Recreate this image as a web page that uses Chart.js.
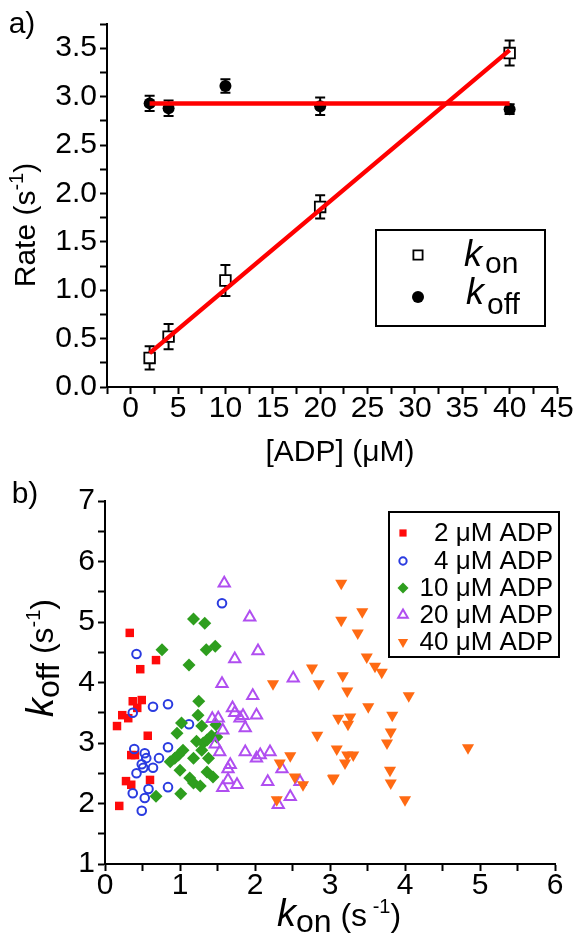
<!DOCTYPE html>
<html>
<head>
<meta charset="utf-8">
<script src="https://cdn.jsdelivr.net/npm/chart.js@4.4.0/dist/chart.umd.min.js"></script>
<style>
  html, body { margin: 0; padding: 0; background: #fff; }
  .wrap { position: absolute; left: 0; width: 580px; }
  #wrapA { top: 0; height: 470px; }
  #wrapB { top: 470px; height: 472px; }
</style>
</head>
<body>
<div class="wrap" id="wrapA"><canvas id="chartA"></canvas></div>
<div class="wrap" id="wrapB"><canvas id="chartB"></canvas></div>
<script>
// ---- panel a data ----
const adp = [2, 4, 10, 20, 40];
const kon = [0.30, 0.52, 1.10, 1.86, 3.45];
const konErr = [0.12, 0.13, 0.16, 0.12, 0.13];
const koff = [2.93, 2.88, 3.11, 2.90, 2.87];
const koffErr = [0.08, 0.08, 0.07, 0.09, 0.05];
const konFit = [[2, 0.35], [40, 3.48]];
const koffFit = [[2, 2.93], [40, 2.93]];
const aXLabels = [0, 5, 10, 15, 20, 25, 30, 35, 40, 45];
const aYLabels = [0.0, 0.5, 1.0, 1.5, 2.0, 2.5, 3.0, 3.5];

// ---- panel b data: [kon, koff] per ADP concentration ----
const adpLevels = ['2', '4', '10', '20', '40'];
const pts2 = [[0.33,4.82],[0.47,4.22],[0.68,4.37],[0.37,3.69],[0.49,3.71],[0.43,3.58],[0.23,3.46],[0.31,3.41],
  [0.16,3.28],[0.57,3.12],[0.35,2.80],[0.40,2.80],[0.28,2.37],[0.35,2.31],[0.60,2.39],[0.19,1.96]];
const pts4 = [[0.42,4.47],[1.56,5.31],[0.37,3.50],[0.64,3.60],[0.84,3.64],[1.12,3.31],[0.39,2.90],[0.53,2.83],
  [0.55,2.75],[0.72,2.75],[0.84,2.93],[0.49,2.65],[0.51,2.59],[0.64,2.59],[0.42,2.50],[0.58,2.24],[0.84,2.27],
  [0.37,2.17],[0.53,2.09],[0.49,1.88]];
const pts10 = [[0.76,4.54],[1.18,5.05],[1.33,4.98],[1.35,4.54],[1.47,4.60],[1.12,4.29],[1.25,3.69],[1.24,3.46],
  [1.02,3.33],[1.29,3.28],[1.48,3.30],[0.96,3.16],[1.42,3.12],[1.49,3.10],[1.22,3.03],[1.31,3.00],[1.36,3.05],
  [1.29,2.88],[1.04,2.88],[0.98,2.80],[0.93,2.75],[0.87,2.69],[1.18,2.75],[1.38,2.75],[1.00,2.55],[1.36,2.52],
  [1.44,2.44],[1.13,2.42],[1.18,2.34],[1.27,2.29],[1.01,2.16],[0.68,2.12]];
const pts20 = [[1.59,5.64],[1.93,5.08],[1.73,4.39],[2.04,4.52],[2.51,4.07],[1.56,3.98],[1.97,3.78],[1.70,3.58],
  [1.73,3.50],[1.84,3.45],[1.80,3.41],[2.02,3.46],[1.87,3.25],[1.43,3.40],[1.51,3.41],[1.57,3.21],[1.47,2.98],
  [1.53,2.85],[1.87,2.85],[2.02,2.75],[2.07,2.80],[2.20,2.85],[1.67,2.64],[1.64,2.57],[1.64,2.39],[1.76,2.31],
  [1.57,2.26],[2.17,2.36],[2.36,2.57],[2.47,2.11],[2.31,1.98],[2.60,2.36]];
const pts40 = [[2.76,4.24],[2.24,3.98],[2.85,3.98],[2.83,3.13],[2.47,2.79],[2.33,2.67],[2.53,2.44],[2.64,2.31],
  [2.29,2.06],[3.05,2.42],[3.15,5.64],[3.15,5.03],[3.43,5.17],[3.37,4.82],[3.49,4.42],[3.60,4.27],[3.69,4.17],
  [3.17,4.11],[3.23,3.86],[4.05,3.78],[3.51,3.60],[3.11,3.41],[3.27,3.43],[3.24,3.31],[3.83,3.46],[3.81,3.18],
  [3.76,3.00],[4.84,2.92],[3.09,2.90],[3.23,2.80],[3.31,2.80],[3.20,2.67],[3.04,2.41],[3.80,2.55],[3.81,2.34],
  [4.00,2.06]];
const bXLabels = [0, 1, 2, 3, 4, 5, 6];
const bYLabels = [1, 2, 3, 4, 5, 6, 7];

const FONT = '"Liberation Sans", Arial, Helvetica, sans-serif';

function makeScale(min, max, step, majors, fmt, size, isX) {
  return {
    type: 'linear', min: min, max: max,
    border: { color: '#000', width: 2 },
    grid: { drawOnChartArea: false, drawTicks: true, tickLength: 7, tickWidth: 2, tickColor: '#000' },
    ticks: {
      autoSkip: false, maxRotation: 0, color: '#000', padding: isX ? 0 : 3,
      font: { family: FONT, size: 30, lineHeight: 1 },
      callback: v => {
        const m = majors.find(t => Math.abs(t - v) < 1e-6);
        return m === undefined ? '' : fmt(m);
      }
    },
    afterBuildTicks: s => {
      const t = [];
      for (let i = 0; min + i * step <= max + 1e-9; i++) t.push({ value: +(min + i * step).toFixed(4) });
      s.ticks = t;
    },
    afterFit: s => { if (isX) s.height = size; else s.width = size; }
  };
}

function richText(ctx, parts, x, y, rot) {
  ctx.save();
  ctx.translate(x, y);
  if (rot) ctx.rotate(rot);
  let w = 0;
  parts.forEach(p => { ctx.font = p.f; w += ctx.measureText(p.t).width; });
  let cx = -w / 2;
  ctx.fillStyle = '#000';
  ctx.textAlign = 'left';
  ctx.textBaseline = 'alphabetic';
  parts.forEach(p => {
    ctx.font = p.f;
    ctx.fillText(p.t, cx, p.dy || 0);
    cx += ctx.measureText(p.t).width;
  });
  ctx.restore();
}

function marker(ctx, ds, x, y) {
  const r = ds.pointRadius, st = ds.pointStyle;
  ctx.save();
  ctx.fillStyle = ds.backgroundColor;
  ctx.strokeStyle = ds.borderColor;
  ctx.lineWidth = ds.borderWidth;
  ctx.beginPath();
  if (st === 'rect') {
    const s = r * Math.SQRT1_2;
    ctx.rect(x - s, y - s, 2 * s, 2 * s);
  } else if (st === 'rectRot') {
    ctx.moveTo(x - r, y); ctx.lineTo(x, y - r); ctx.lineTo(x + r, y); ctx.lineTo(x, y + r); ctx.closePath();
  } else if (st === 'triangle') {
    const d = ds.rotation ? -1 : 1;
    ctx.moveTo(x, y - d * r); ctx.lineTo(x + 0.866 * r, y + d * r / 2); ctx.lineTo(x - 0.866 * r, y + d * r / 2); ctx.closePath();
  } else {
    ctx.arc(x, y, r, 0, Math.PI * 2);
  }
  ctx.fill();
  if (ds.borderWidth) ctx.stroke();
  ctx.restore();
}

const errorBars = {
  id: 'errorBars',
  beforeDatasetsDraw(chart) {
    const ctx = chart.ctx, sx = chart.scales.x, sy = chart.scales.y;
    chart.data.datasets.forEach(ds => {
      if (!ds.errors) return;
      ctx.save();
      ctx.strokeStyle = '#000';
      ctx.lineWidth = 2;
      ds.data.forEach((p, i) => {
        const px = sx.getPixelForValue(p.x);
        const top = sy.getPixelForValue(p.y + ds.errors[i]);
        const bot = sy.getPixelForValue(p.y - ds.errors[i]);
        ctx.beginPath();
        ctx.moveTo(px, top); ctx.lineTo(px, bot);
        ctx.moveTo(px - 5, top); ctx.lineTo(px + 5, top);
        ctx.moveTo(px - 5, bot); ctx.lineTo(px + 5, bot);
        ctx.stroke();
      });
      ctx.restore();
    });
  }
};

const decorA = {
  id: 'decorA',
  afterDraw(chart) {
    const ctx = chart.ctx;
    richText(ctx, [{ t: 'a)', f: '30px ' + FONT }], 22, 33);
    richText(ctx, [{ t: 'Rate (s', f: '30px ' + FONT }, { t: '-1', f: '20px ' + FONT, dy: -12 }, { t: ')', f: '30px ' + FONT }], 35, 225, -Math.PI / 2);
    richText(ctx, [{ t: '[ADP] (μM)', f: '30px ' + FONT }], 340, 461);
    // legend
    ctx.save();
    ctx.strokeStyle = '#000';
    ctx.lineWidth = 2;
    ctx.strokeRect(376, 230, 169, 96);
    ctx.restore();
    const dsOn = chart.data.datasets[2], dsOff = chart.data.datasets[3];
    marker(ctx, Object.assign({}, dsOn, { pointRadius: 6.5 }), 418, 255);
    marker(ctx, dsOff, 418, 297);
    ctx.save();
    ctx.fillStyle = '#000';
    ctx.textAlign = 'left';
    ctx.font = 'italic 36px ' + FONT;
    ctx.fillText('k', 464, 266);
    ctx.fillText('k', 466, 304);
    ctx.font = '30px ' + FONT;
    ctx.fillText('on', 485, 273);
    ctx.fillText('off', 487, 314);
    ctx.restore();
  }
};

const pt = a => a.map(([x, y]) => ({ x: x, y: y }));

new Chart(document.getElementById('chartA'), {
  type: 'scatter',
  data: {
    datasets: [
      { label: 'kon fit', data: pt(konFit), showLine: true, borderColor: '#ff0000', borderWidth: 4.5, pointRadius: 0, order: 0 },
      { label: 'koff fit', data: pt(koffFit), showLine: true, borderColor: '#ff0000', borderWidth: 4.5, pointRadius: 0, order: 0 },
      { label: 'kon', data: adp.map((x, i) => ({ x: x, y: kon[i] })), errors: konErr, pointStyle: 'rect', pointRadius: 7.5,
        backgroundColor: '#fff', borderColor: '#000', borderWidth: 1.8, order: 1 },
      { label: 'koff', data: adp.map((x, i) => ({ x: x, y: koff[i] })), errors: koffErr, pointStyle: 'circle', pointRadius: 6,
        backgroundColor: '#000', borderColor: '#000', borderWidth: 0, order: 1 }
    ]
  },
  options: {
    responsive: true,
    maintainAspectRatio: false,
    animation: false,
    events: [],
    layout: { padding: { left: 0, right: 23, top: 24, bottom: 0 } },
    plugins: { legend: { display: false }, tooltip: { enabled: false } },
    scales: {
      x: makeScale(-2.5, 45, 2.5, aXLabels, v => String(v), 83, true),
      y: makeScale(0, 3.75, 0.25, aYLabels, v => v.toFixed(1), 107, false)
    }
  },
  plugins: [errorBars, decorA]
});

const seriesB = [
  { pts: pts2, pointStyle: 'rect', pointRadius: 6, backgroundColor: '#ff0a0a', borderColor: '#ff0a0a', borderWidth: 0 },
  { pts: pts4, pointStyle: 'circle', pointRadius: 4.3, backgroundColor: 'rgba(0,0,0,0)', borderColor: '#2a3be0', borderWidth: 2 },
  { pts: pts10, pointStyle: 'rectRot', pointRadius: 6.5, backgroundColor: '#2e9e1e', borderColor: '#2e9e1e', borderWidth: 0 },
  { pts: pts20, pointStyle: 'triangle', pointRadius: 6.5, backgroundColor: 'rgba(0,0,0,0)', borderColor: '#b04ef0', borderWidth: 2 },
  { pts: pts40, pointStyle: 'triangle', rotation: 180, pointRadius: 7, backgroundColor: '#ff6a13', borderColor: '#ff6a13', borderWidth: 0 }
];

const decorB = {
  id: 'decorB',
  afterDraw(chart) {
    const ctx = chart.ctx;
    richText(ctx, [{ t: 'b)', f: '30px ' + FONT }], 25, 33);
    richText(ctx, [{ t: 'k', f: 'italic 38px ' + FONT }, { t: 'off', f: '32px ' + FONT, dy: 6 },
      { t: ' (s', f: '32px ' + FONT }, { t: '-1', f: '20px ' + FONT, dy: -13 }, { t: ')', f: '32px ' + FONT }], 53, 188, -Math.PI / 2);
    richText(ctx, [{ t: 'k', f: 'italic 38px ' + FONT }, { t: 'on', f: '32px ' + FONT, dy: 6 },
      { t: ' (s', f: '32px ' + FONT }, { t: ' -1', f: '20px ' + FONT, dy: -13 }, { t: ')', f: '32px ' + FONT }], 339, 456);
    // legend
    ctx.save();
    ctx.strokeStyle = '#000';
    ctx.lineWidth = 2;
    ctx.strokeRect(389, 42, 170, 145);
    ctx.restore();
    const rows = [63, 91, 118, 145, 172];
    chart.data.datasets.forEach((ds, i) => {
      marker(ctx, Object.assign({}, ds, { pointRadius: ds.pointRadius * 0.85 }), 403, rows[i]);
      ctx.save();
      ctx.fillStyle = '#000';
      ctx.textAlign = 'right';
      ctx.textBaseline = 'middle';
      ctx.font = '26px ' + FONT;
      ctx.fillText(ds.label, 553, rows[i] + 1);
      ctx.restore();
    });
  }
};

new Chart(document.getElementById('chartB'), {
  type: 'scatter',
  data: {
    datasets: seriesB.map((s, i) => ({
      label: adpLevels[i] + ' μM ADP',
      data: pt(s.pts),
      pointStyle: s.pointStyle,
      rotation: s.rotation || 0,
      pointRadius: s.pointRadius,
      backgroundColor: s.backgroundColor,
      borderColor: s.borderColor,
      borderWidth: s.borderWidth,
      order: seriesB.length - i
    }))
  },
  options: {
    responsive: true,
    maintainAspectRatio: false,
    animation: false,
    events: [],
    layout: { padding: { left: 0, right: 25, top: 31, bottom: 0 } },
    plugins: { legend: { display: false }, tooltip: { enabled: false } },
    scales: {
      x: makeScale(0, 6, 0.5, bXLabels, v => String(v), 78, true),
      y: makeScale(1, 7, 0.5, bYLabels, v => String(v), 105, false)
    }
  },
  plugins: [decorB]
});
</script>
</body>
</html>
